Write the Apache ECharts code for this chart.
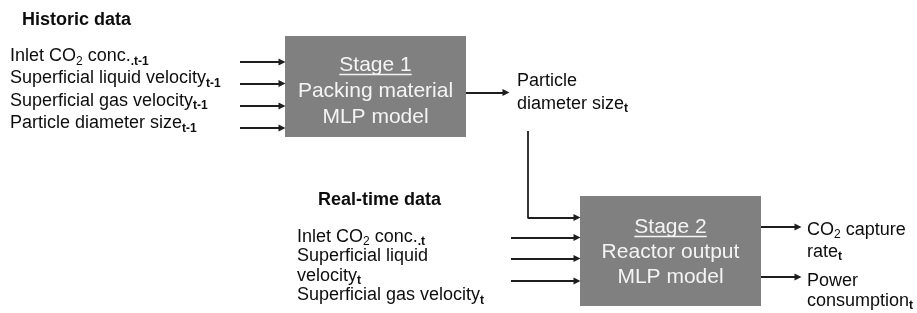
<!DOCTYPE html>
<html>
<head>
<meta charset="utf-8">
<script src="https://cdn.jsdelivr.net/npm/echarts@6/dist/echarts.min.js"></script>
<style>
  html, body { margin: 0; padding: 0; background: #fff; }
  #chart { width: 917px; height: 313px; }
</style>
</head>
<body>
<div id="chart"></div>
<script>
  // texts of the diagram ({s|..} = subscript, {b|..} = bold subscript)
  const historicTitle = 'Historic data';
  const historicInputs = [
    'Inlet CO{s|2} conc.{b|.t-1}',
    'Superficial liquid velocity{b|t-1}',
    'Superficial gas velocity{b|t-1}',
    'Particle diameter size{b|t-1}'
  ];
  const stage1Lines = ['Stage 1', 'Packing material', 'MLP model'];
  const stage1Output = ['Particle', 'diameter size{b|t}'];
  const realtimeTitle = 'Real-time data';
  const realtimeInputs = [
    'Inlet CO{s|2} conc.{b|.t}',
    'Superficial liquid',
    'velocity{b|t}',
    'Superficial gas velocity{b|t}'
  ];
  const stage2Lines = ['Stage 2', 'Reactor output', 'MLP model'];
  const stage2Outputs = ['CO{s|2} capture', 'rate{b|t}', 'Power', 'consumption{b|t}'];

  // layout (pixel units of the hidden axes)
  const W = 917, H = 313;
  const box1 = [285, 36, 466, 137];
  const box2 = [580, 196, 761, 306];
  const histY = [56.5, 78.5, 101, 123.5];
  const histArrowY = [62, 83.5, 106, 128];
  const rtY = [237, 256.5, 276, 295.5];
  const rtArrowY = [237.5, 258.5, 281];
  const boxTextY1 = [65, 91, 117];
  const boxTextY2 = [227, 252, 277];
  const outY = [230, 252, 281, 301];
  const outArrowY = [227, 277];

  const FONT = '"Liberation Sans", Arial, sans-serif';
  const INK = '#0d0d0d';
  const LINE = '#1e1e1e';
  const richSub = {
    s: { fontSize: 12, lineHeight: 12, verticalAlign: 'bottom', color: INK, fontFamily: FONT },
    b: { fontSize: 12, lineHeight: 12, fontWeight: 'bold', verticalAlign: 'bottom', color: INK, fontFamily: FONT }
  };

  function txt(x, y, text, opt) {
    opt = opt || {};
    return {
      value: [x, y],
      label: Object.assign({
        show: true, position: 'inside', align: 'left', verticalAlign: 'middle',
        formatter: text, fontSize: 18, lineHeight: 22, color: INK, fontFamily: FONT, rich: richSub
      }, opt)
    };
  }

  const texts = [];
  texts.push(txt(22, 20, historicTitle, { fontWeight: 'bold', fontSize: 18 }));
  historicInputs.forEach((t, i) => texts.push(txt(10, histY[i], t)));
  stage1Output.forEach((t, i) => texts.push(txt(517, [81, 104][i], t)));
  texts.push(txt(318, 200, realtimeTitle, { fontWeight: 'bold', fontSize: 18 }));
  realtimeInputs.forEach((t, i) => texts.push(txt(297, rtY[i], t)));
  stage2Outputs.forEach((t, i) => texts.push(txt(807, outY[i], t)));

  const boxFont = { align: 'center', fontSize: 21, color: '#f4f4f4' };
  const c1 = (box1[0] + box1[2]) / 2, c2 = (box2[0] + box2[2]) / 2;
  stage1Lines.forEach((t, i) => texts.push(txt(c1, boxTextY1[i], t, boxFont)));
  stage2Lines.forEach((t, i) => texts.push(txt(c2, boxTextY2[i], t, boxFont)));

  // underline of the stage titles
  const ctx = document.createElement('canvas').getContext('2d');
  ctx.font = '21px ' + FONT;
  const u1 = ctx.measureText(stage1Lines[0]).width / 2;
  const u2 = ctx.measureText(stage2Lines[0]).width / 2;
  const underlines = [
    { coords: [[c1 - u1, boxTextY1[0] + 9.5], [c1 + u1, boxTextY1[0] + 9.5]] },
    { coords: [[c2 - u2, boxTextY2[0] + 9.5], [c2 + u2, boxTextY2[0] + 9.5]] }
  ];

  const arrows = [];
  histArrowY.forEach(y => arrows.push({ coords: [[240, y], [box1[0] - 3, y]] }));
  arrows.push({ coords: [[box1[2], 92.5], [506, 92.5]] });
  arrows.push({ coords: [[528, 217.5], [box2[0] - 3, 217.5]] });
  rtArrowY.forEach(y => arrows.push({ coords: [[511, y], [box2[0] - 3, y]] }));
  outArrowY.forEach(y => arrows.push({ coords: [[box2[2], y], [798, y]] }));
  const connector = [{ coords: [[528, 131], [528, 218.4]] }];

  const chart = echarts.init(document.getElementById('chart'));
  chart.setOption({
    animation: false,
    backgroundColor: '#fff',
    grid: { left: 0, right: 0, top: 0, bottom: 0 },
    xAxis: { type: 'value', min: 0, max: W, show: false },
    yAxis: { type: 'value', min: 0, max: H, inverse: true, show: false },
    series: [
      {
        type: 'custom',
        data: [box1, box2],
        encode: { x: [0, 2], y: [1, 3] },
        renderItem: function (params, api) {
          const p0 = api.coord([api.value(0), api.value(1)]);
          const p1 = api.coord([api.value(2), api.value(3)]);
          return {
            type: 'rect',
            shape: { x: p0[0], y: p0[1], width: p1[0] - p0[0], height: p1[1] - p0[1] },
            style: { fill: '#808080' }
          };
        },
        z: 1
      },
      {
        type: 'lines',
        coordinateSystem: 'cartesian2d',
        data: arrows,
        symbol: ['none', 'triangle'],
        symbolSize: [6, 7],
        lineStyle: { color: LINE, width: 1.8, opacity: 1 },
        itemStyle: { color: LINE },
        z: 2
      },
      {
        type: 'lines',
        coordinateSystem: 'cartesian2d',
        data: connector,
        symbol: 'none',
        lineStyle: { color: LINE, width: 1.8, opacity: 1 },
        z: 2
      },
      {
        type: 'lines',
        coordinateSystem: 'cartesian2d',
        data: underlines,
        symbol: 'none',
        lineStyle: { color: '#f4f4f4', width: 1.3, opacity: 1 },
        z: 3
      },
      {
        type: 'scatter',
        symbolSize: 0,
        data: texts,
        silent: true,
        itemStyle: { opacity: 1 },
        z: 4
      }
    ]
  });
</script>
</body>
</html>
